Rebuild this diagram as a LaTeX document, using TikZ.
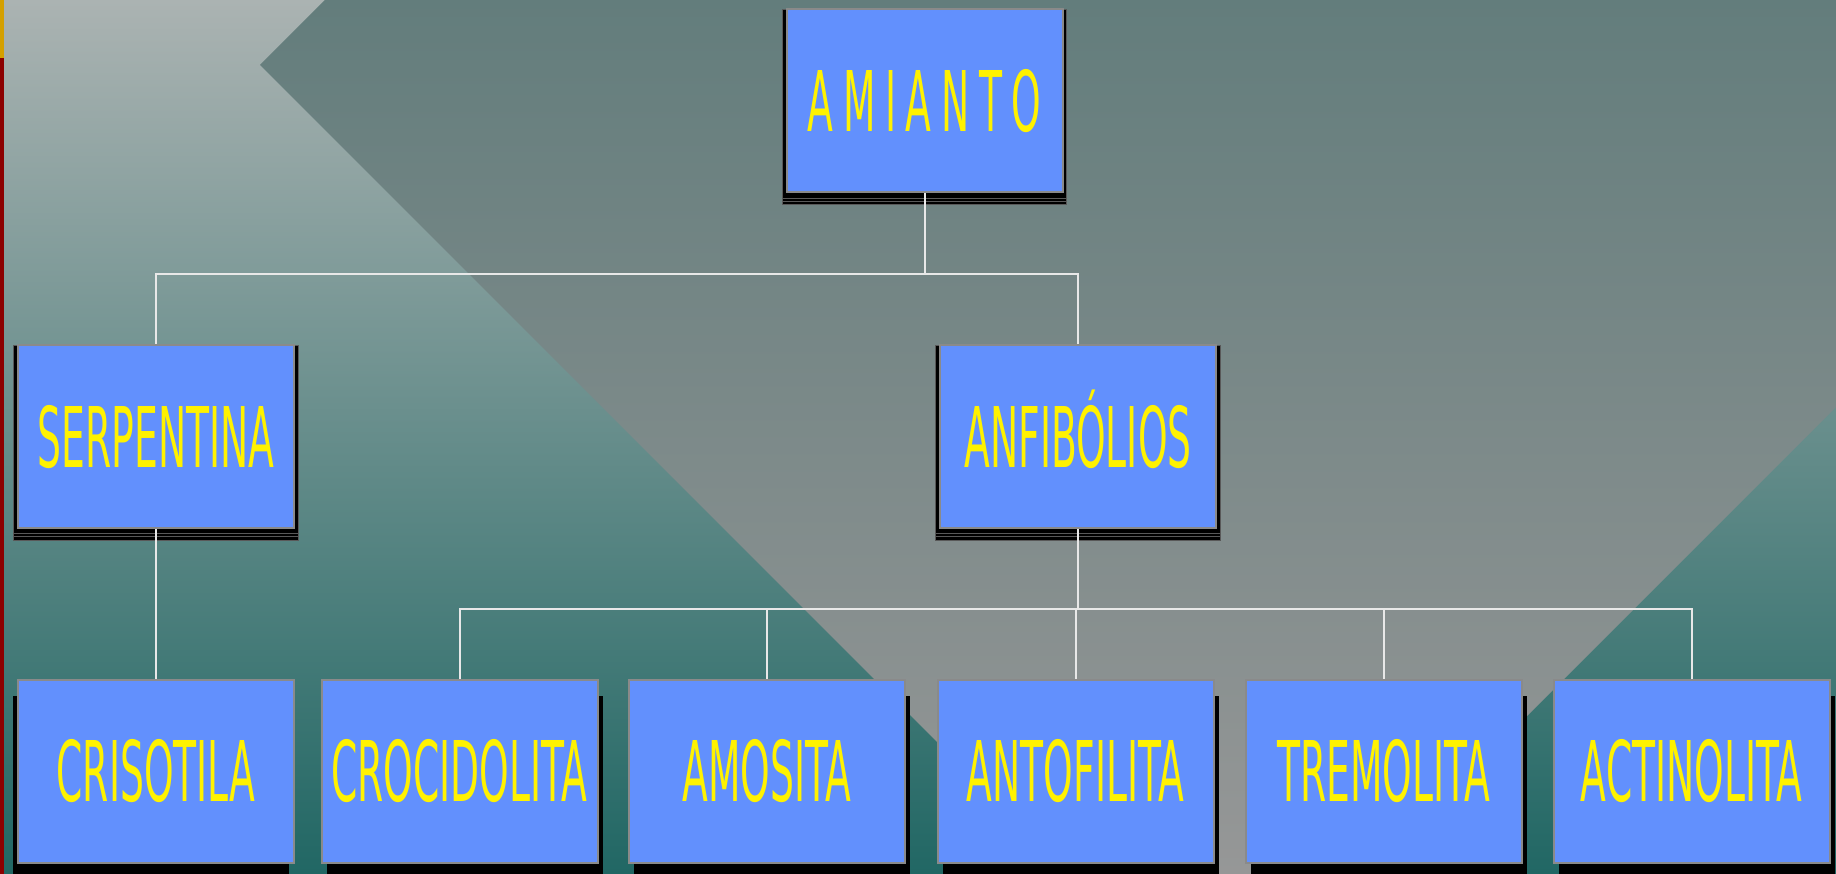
\documentclass[tikz,border=0pt]{standalone}
\usepackage{fontspec}
\usetikzlibrary{shadows}
\newfontfamily\boxfont[FakeStretch=0.45]{DejaVu Sans}
\definecolor{boxblue}{RGB}{98,144,253}
\definecolor{boxedge}{RGB}{138,138,138}
\definecolor{bgtop}{RGB}{171,179,178}
\definecolor{bgmid}{RGB}{112,142,140}
\definecolor{bgbottom}{RGB}{33,103,100}
\definecolor{kitetop}{RGB}{99,125,124}
\definecolor{kitemid}{RGB}{132,138,137}
\definecolor{kitebottom}{RGB}{150,151,151}
\definecolor{linkwhite}{RGB}{232,232,232}
\definecolor{stripgold}{RGB}{212,160,0}
\definecolor{stripred}{RGB}{140,0,0}
\tikzset{
  mineral/.style={draw=boxedge, line width=2pt, fill=boxblue, text=yellow,
    minimum width=276pt, minimum height=183pt, inner sep=0pt,
    text height=61pt, text depth=0pt,
    font=\boxfont\fontsize{83.7}{90}\selectfont},
  stacked/.style={
    general shadow={fill=black, draw=black!65, line width=1pt, shadow scale=1.03, shadow yshift=-9pt},
    general shadow={fill=black, draw=black!65, line width=1pt, shadow scale=1.03, shadow yshift=-6pt},
    general shadow={fill=black, draw=black!65, line width=1pt, shadow scale=1.03, shadow yshift=-3pt}},
  dropped/.style={general shadow={fill=black, draw=none, shadow xshift=#1, shadow yshift=-16pt}},
  link/.style={draw=linkwhite, line width=2pt}
}
\begin{document}
\begin{tikzpicture}[x=1pt, y=-1pt]
    \useasboundingbox (0,0) rectangle (1836,874);
    \clip (0,0) rectangle (1836,874);
    % background
    \shade[top color=bgtop, middle color=bgmid, bottom color=bgbottom] (0,0) rectangle (1836,874);
    \shade[top color=kitetop, middle color=kitemid, bottom color=kitebottom]
        (260,65) -- (325,0) -- (1836,0) -- (1836,407) -- (1369,874) -- (1069,874) -- cycle;
    \fill[stripgold] (0,0) rectangle (4,58);
    \fill[stripred] (0,58) rectangle (4,874);
    % boxes
    \node[mineral, stacked] (amianto) at (924.5,101) {\spaceskip=9.6pt A M I A N T O};
    \node[mineral, stacked] (serpentina) at (156,436.5) {SERPENTINA};
    \node[mineral, stacked] (anfibolios) at (1078,436.5) {ANFIBÓLIOS};
    \node[mineral, dropped=-5pt] (crisotila) at (156,771) {CRISOTILA};
    \node[mineral, dropped=5pt] (crocidolita) at (459.5,771) {CROCIDOLITA};
    \node[mineral, dropped=5pt] (amosita) at (767,771) {AMOSITA};
    \node[mineral, dropped=5pt] (antofilita) at (1075.5,771) {ANTOFILITA};
    \node[mineral, dropped=5pt] (tremolita) at (1384,771) {TREMOLITA};
    \node[mineral, dropped=5pt] (actinolita) at (1691.5,771) {ACTINOLITA};
    % links
    \coordinate (split) at (924.5,274);
    \coordinate (fork) at (1078,609);
    \draw[link] (amianto) -- (split);
    \draw[link] (serpentina) |- (split) -| (anfibolios);
    \draw[link] (serpentina) -- (crisotila);
    \draw[link] (anfibolios) -- (fork);
    \draw[link] (crocidolita) |- (fork) -| (actinolita);
    \foreach \m in {amosita, antofilita, tremolita}
        \draw[link] (\m) -- (\m |- fork);
\end{tikzpicture}
\end{document}
